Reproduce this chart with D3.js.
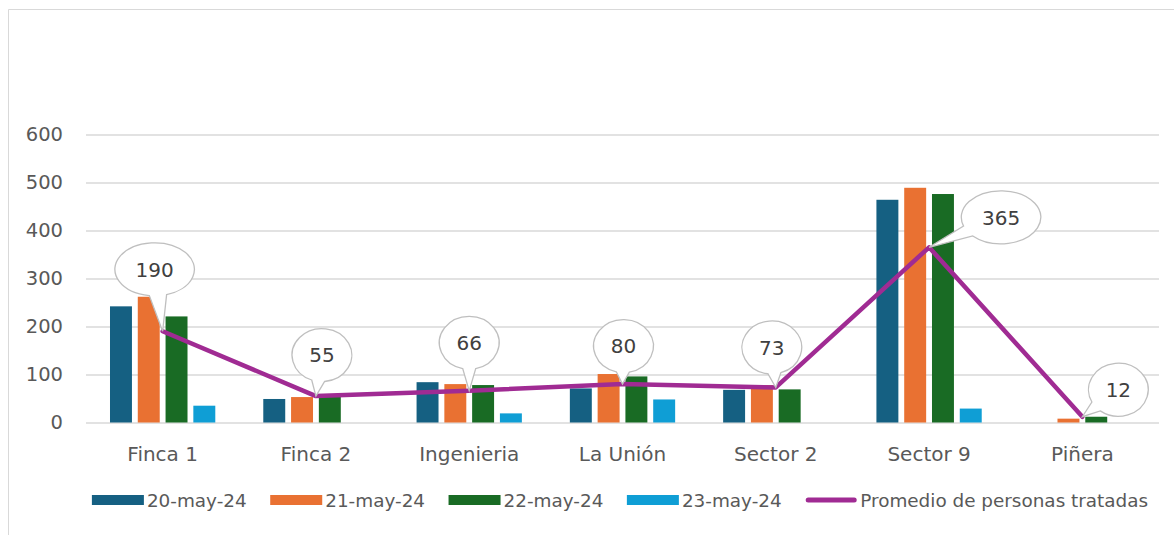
<!DOCTYPE html>
<html>
<head>
<meta charset="utf-8">
<script src="https://cdn.jsdelivr.net/npm/d3@7/dist/d3.min.js"></script>
<style>
  html, body { margin: 0; padding: 0; background: #ffffff; }
  svg { display: block; }
  text { font-family: "DejaVu Sans", sans-serif; }
</style>
</head>
<body>
<svg id="chart" width="1174" height="535"></svg>
<script>
// ---- Data ----
const categories = ["Finca 1", "Finca 2", "Ingenieria", "La Unión", "Sector 2", "Sector 9", "Piñera"];
const seriesNames = ["20-may-24", "21-may-24", "22-may-24", "23-may-24"];
const may20 = [242, 49, 84, 71, 68, 464, 0];
const may21 = [262, 53, 80, 101, 78, 489, 8];
const may22 = [221, 56, 78, 96, 69, 476, 12];
const may23 = [35, 0, 19, 48, 0, 29, 0];
const lineName = "Promedio de personas tratadas";
const promedio = [190, 55, 66, 80, 73, 365, 12];
const yTicks = [0, 100, 200, 300, 400, 500, 600];

// ---- Layout / style config ----
const seriesValues = [may20, may21, may22, may23];
const colors = ["#156082", "#E97132", "#196B24", "#0F9ED5"];
const lineColor = "#A02B93";
const labelOffsets = [[-8, -62], [6, -41], [0, -48], [1, -38], [-4, -40], [72, -30], [36, -27]];

const W = 1174, H = 535;
const plot = { left: 86, right: 1159, top: 134.5, bottom: 422.5 };

const svg = d3.select("#chart");
svg.append("rect").attr("width", W).attr("height", H).attr("fill", "#fff");

// frame (top and left edges visible)
svg.append("line").attr("x1", 8.5).attr("x2", W).attr("y1", 9.5).attr("y2", 9.5)
  .attr("stroke", "#d9d9d9").attr("stroke-width", 1);
svg.append("line").attr("x1", 8.5).attr("x2", 8.5).attr("y1", 9.5).attr("y2", H)
  .attr("stroke", "#d9d9d9").attr("stroke-width", 1);

const y = d3.scaleLinear().domain([0, 600]).range([plot.bottom, plot.top]);
const x0 = d3.scaleBand().domain(categories).range([plot.left, plot.right]).paddingInner(0).paddingOuter(0);
const bw = x0.bandwidth();
const groupW = bw * 0.725;
const x1 = d3.scaleBand().domain(seriesNames)
  .range([(bw - groupW) / 2, bw - (bw - groupW) / 2])
  .paddingInner(0.21).paddingOuter(0.105);

// y axis with gridlines
const yAxis = d3.axisLeft(y).tickValues(yTicks).tickSize(-(plot.right - plot.left)).tickPadding(23);
const gy = svg.append("g").attr("transform", `translate(${plot.left},0)`).call(yAxis);
gy.select(".domain").remove();
gy.selectAll(".tick line").attr("stroke", "#d9d9d9").attr("stroke-width", 1.3);
gy.selectAll(".tick text").attr("fill", "#595959").attr("font-size", "19.5px")
  .attr("font-family", "DejaVu Sans, sans-serif");

// x axis labels
const xAxis = d3.axisBottom(x0).tickSize(0).tickPadding(24);
const gx = svg.append("g").attr("transform", `translate(0,${plot.bottom})`).call(xAxis);
gx.select(".domain").remove();
gx.selectAll(".tick text").attr("fill", "#595959").attr("font-size", "20px")
  .attr("font-family", "DejaVu Sans, sans-serif");

// bars
const barData = [];
categories.forEach((c, i) => {
  seriesNames.forEach((s, j) => {
    barData.push({ cat: c, series: s, value: seriesValues[j][i], color: colors[j] });
  });
});
svg.append("g").selectAll("rect").data(barData.filter(d => d.value > 0)).join("rect")
  .attr("x", d => x0(d.cat) + x1(d.series))
  .attr("width", x1.bandwidth())
  .attr("y", d => y(d.value))
  .attr("height", d => y(0) - y(d.value))
  .attr("fill", d => d.color);

// line
const cx = c => x0(c) + bw / 2;
const lineGen = d3.line().x((d, i) => cx(categories[i])).y(d => y(d));
svg.append("path").datum(promedio).attr("d", lineGen)
  .attr("fill", "none").attr("stroke", lineColor).attr("stroke-width", 4.5)
  .attr("stroke-linejoin", "round").attr("stroke-linecap", "round");

// callout labels
const lblG = svg.append("g");
promedio.forEach((v, i) => {
  const tx = cx(categories[i]), ty = y(v);
  const ccx = tx + labelOffsets[i][0], ccy = ty + labelOffsets[i][1];
  const g = lblG.append("g");
  const path = g.append("path");
  const t = g.append("text").attr("x", ccx).attr("y", ccy).attr("dy", "0.36em")
    .attr("text-anchor", "middle").attr("font-size", "20px").attr("fill", "#404040")
    .text(v);
  const tw = t.node().getComputedTextLength();
  const rx = tw * 0.78 + 10, ry = 26.5;
  const theta = Math.atan2((ty - ccy) / ry, (tx - ccx) / rx);
  const delta = 0.22;
  const p1 = [ccx + rx * Math.cos(theta - delta), ccy + ry * Math.sin(theta - delta)];
  const p2 = [ccx + rx * Math.cos(theta + delta), ccy + ry * Math.sin(theta + delta)];
  const d = `M${p2[0]},${p2[1]} A${rx},${ry} 0 1 1 ${p1[0]},${p1[1]} L${tx},${ty} Z`;
  path.attr("d", d).attr("fill", "#ffffff").attr("stroke", "#bfbfbf").attr("stroke-width", 1.3)
    .attr("stroke-linejoin", "miter");
});

// legend
const legendItems = seriesNames.map((s, j) => ({ name: s, color: colors[j], type: "rect" }))
  .concat([{ name: lineName, color: lineColor, type: "line" }]);
const legG = svg.append("g");
const legY = 500;
const swW = 52, gapText = 3, gapItem = 23.5;
let xpos = 0;
legendItems.forEach(it => {
  const g = legG.append("g");
  if (it.type === "rect") {
    g.append("rect").attr("x", xpos).attr("y", legY - 5).attr("width", swW).attr("height", 10).attr("fill", it.color);
  } else {
    g.append("line").attr("x1", xpos + 3).attr("x2", xpos + swW - 3).attr("y1", legY).attr("y2", legY)
      .attr("stroke", it.color).attr("stroke-width", 5).attr("stroke-linecap", "round");
  }
  const t = g.append("text").attr("x", xpos + swW + gapText).attr("y", legY).attr("dy", "0.36em")
    .attr("font-size", "18.4px").attr("fill", "#595959").text(it.name);
  xpos += swW + gapText + t.node().getComputedTextLength() + gapItem;
});
const totalW = xpos - gapItem;
legG.attr("transform", `translate(${620 - totalW / 2},0)`);
</script>
</body>
</html>
